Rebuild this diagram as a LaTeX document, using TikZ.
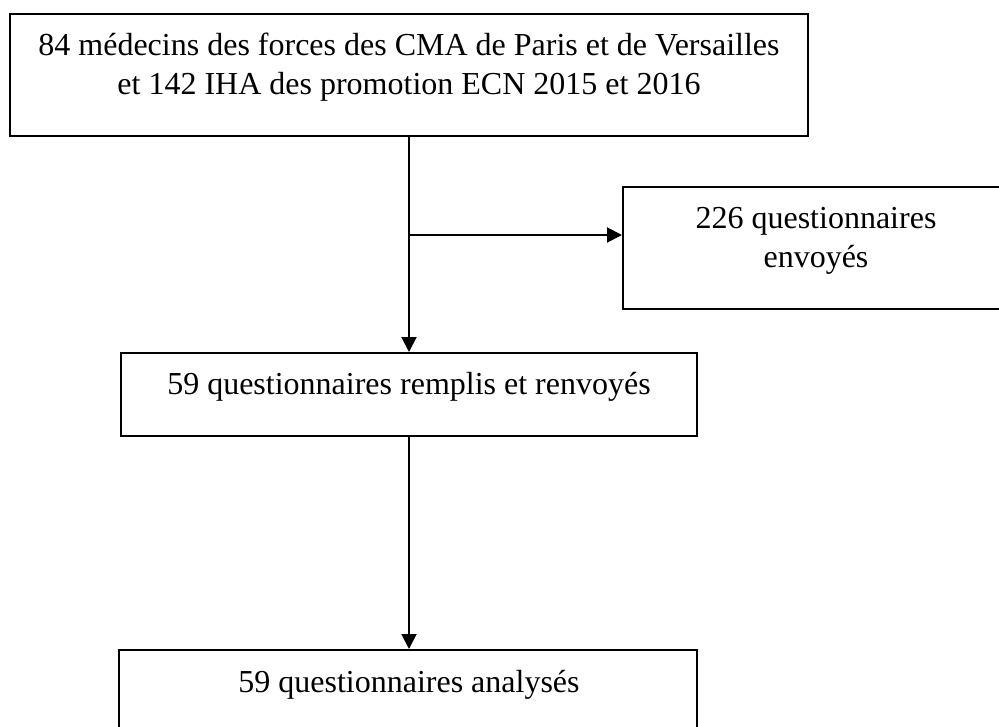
\documentclass[tikz,border=0pt]{standalone}
\usepackage{fontspec}
\setmainfont{Liberation Serif}
\usetikzlibrary{arrows.meta}
\begin{document}
\begin{tikzpicture}[x=1pt,y=-1pt,
  box/.style={draw=black, line width=2pt, rectangle, inner sep=0pt},
  txt/.style={inner sep=0pt, align=center, anchor=base, text=black,
    font=\fontsize{32}{39}\selectfont},
  arr/.style={draw=black, line width=2pt, -{Triangle[length=15pt,width=15pt]}},
  lin/.style={draw=black, line width=2pt}]
\useasboundingbox (0,0) rectangle (999,726);
\fill[white] (0,0) rectangle (999,726);
% boxes
\node[box, minimum width=798pt, minimum height=122pt] (b1) at (409,75) {};
\node[box, minimum width=386pt, minimum height=122pt] (b3) at (816,248) {};
\node[box, minimum width=576pt, minimum height=83pt] (b2) at (409,394.5) {};
\node[box, minimum width=578pt, minimum height=83pt] (b4) at (408,691.5) {};
% texts (base anchor = baseline of the last line)
\node[txt] (t1) at (409,94) {84 médecins des forces des CMA de Paris et de Versailles\\et 142 IHA des promotion ECN 2015 et 2016};
\node[txt] (t3) at (816,267) {226 questionnaires\\envoyés};
\node[txt] (t2) at (409,394) {59 questionnaires remplis et renvoyés};
\node[txt] (t4) at (409,692) {59 questionnaires analysés};
% connectors
\coordinate (j) at (409,235);
\draw[arr] (b1.south) -- (b2.north);
\draw[arr] (j) -- (j -| b3.west);
\draw[arr] (b2.south) -- (b4.north -| b2.south);
\end{tikzpicture}
\end{document}
